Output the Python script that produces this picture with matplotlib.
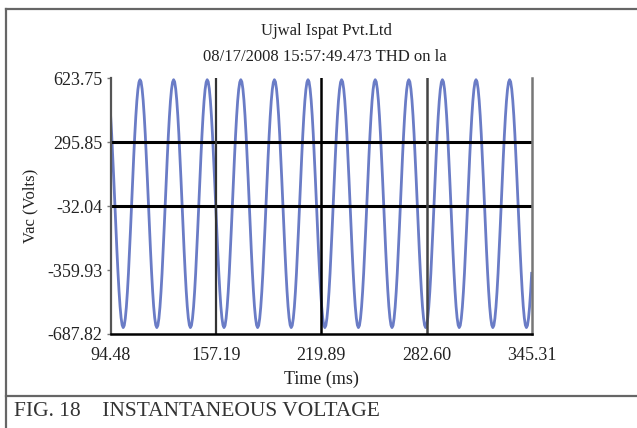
import numpy as np
import matplotlib
matplotlib.use("Agg")
import matplotlib.pyplot as plt
from matplotlib.lines import Line2D

# axis scale of the recorder screen
x_ticks = [94.48, 157.19, 219.89, 282.60, 345.31]
y_ticks = [-687.82, -359.93, -32.04, 295.85, 623.75]

# one 20 ms cycle of the waveform, 0.625 ms per sample
cycle_volts = [432, 337, 227, 108, -16, -139, -259, -369,
               -466, -546, -605, -642, -655, -644, -608, -550,
               -472, -377, -267, -148, -24, 99, 219, 329,
               426, 506, 565, 602, 615, 604, 568, 510]
sample_ms = 0.625
n_samples = 402

volts = np.tile(cycle_volts, 13)[:n_samples]
t = x_ticks[0] + sample_ms * np.arange(n_samples)

plt.rcParams['font.family'] = ['Liberation Serif', 'DejaVu Serif']

fig = plt.figure(figsize=(6.37, 4.28), dpi=100)
ax = fig.add_axes([110.6 / 637, 1 - 334 / 428, (532 - 110.6) / 637, (334 - 78) / 428])

ax.plot(t, volts, color="#6a7cc6", linewidth=2, zorder=2)

# heavy grid lines of the original display
for y in [295.85, -32.04]:
    ax.axhline(y, color="black", linewidth=2.2, zorder=3)
ax.axvline(157.19, color="#333333", linewidth=1.6, zorder=3)
ax.axvline(219.89, color="black", linewidth=1.8, zorder=3)
ax.axvline(282.60, color="#444444", linewidth=1.8, zorder=3)

ax.set_xlim(x_ticks[0], x_ticks[-1])
ax.set_ylim(y_ticks[0], y_ticks[-1])
ax.set_xticks(x_ticks)
ax.set_xticklabels(["%.2f" % v for v in x_ticks])
ax.set_yticks(y_ticks)
ax.set_yticklabels(["%.2f" % v for v in y_ticks])
ax.tick_params(axis="x", length=0, pad=9, labelsize=13, colors="#222222")
ax.tick_params(axis="y", length=3, width=1, color="#777777", pad=3, labelsize=13, labelcolor="#222222")

ax.spines["top"].set_visible(False)
ax.spines["left"].set_color("#555555")
ax.spines["left"].set_linewidth(1.6)
ax.spines["right"].set_color("#777777")
ax.spines["right"].set_linewidth(1.8)
ax.spines["bottom"].set_color("black")
ax.spines["bottom"].set_linewidth(1.8)
for s in ax.spines.values():
    s.set_zorder(4)

ax.set_xlabel("Time (ms)", fontsize=13, color="#222222", labelpad=5)
ax.set_ylabel("Vac (Volts)", fontsize=12, color="#222222", labelpad=6)

fig.text(0.512, 1 - 31 / 428, "Ujwal Ispat Pvt.Ltd", ha="center", va="center", fontsize=12, color="#222222")
fig.text(0.510, 1 - 57 / 428, "08/17/2008 15:57:49.473 THD on la", ha="center", va="center",
         fontsize=12, color="#222222")

# outer frame and caption rule
frame = dict(color="#666666", linewidth=1.6, transform=fig.transFigure)
fig.add_artist(Line2D([6.5 / 637, 1], [1 - 8.5 / 428] * 2, **frame))
fig.add_artist(Line2D([6.5 / 637] * 2, [0, 1 - 8.5 / 428], **frame))
fig.add_artist(Line2D([6.5 / 637, 1], [1 - 396 / 428] * 2, **frame))

fig.text(14 / 637, 1 - 412 / 428, "FIG. 18    INSTANTANEOUS VOLTAGE", ha="left", va="center",
         fontsize=15.5, color="#333333")

fig.savefig("out.png", dpi=100)
